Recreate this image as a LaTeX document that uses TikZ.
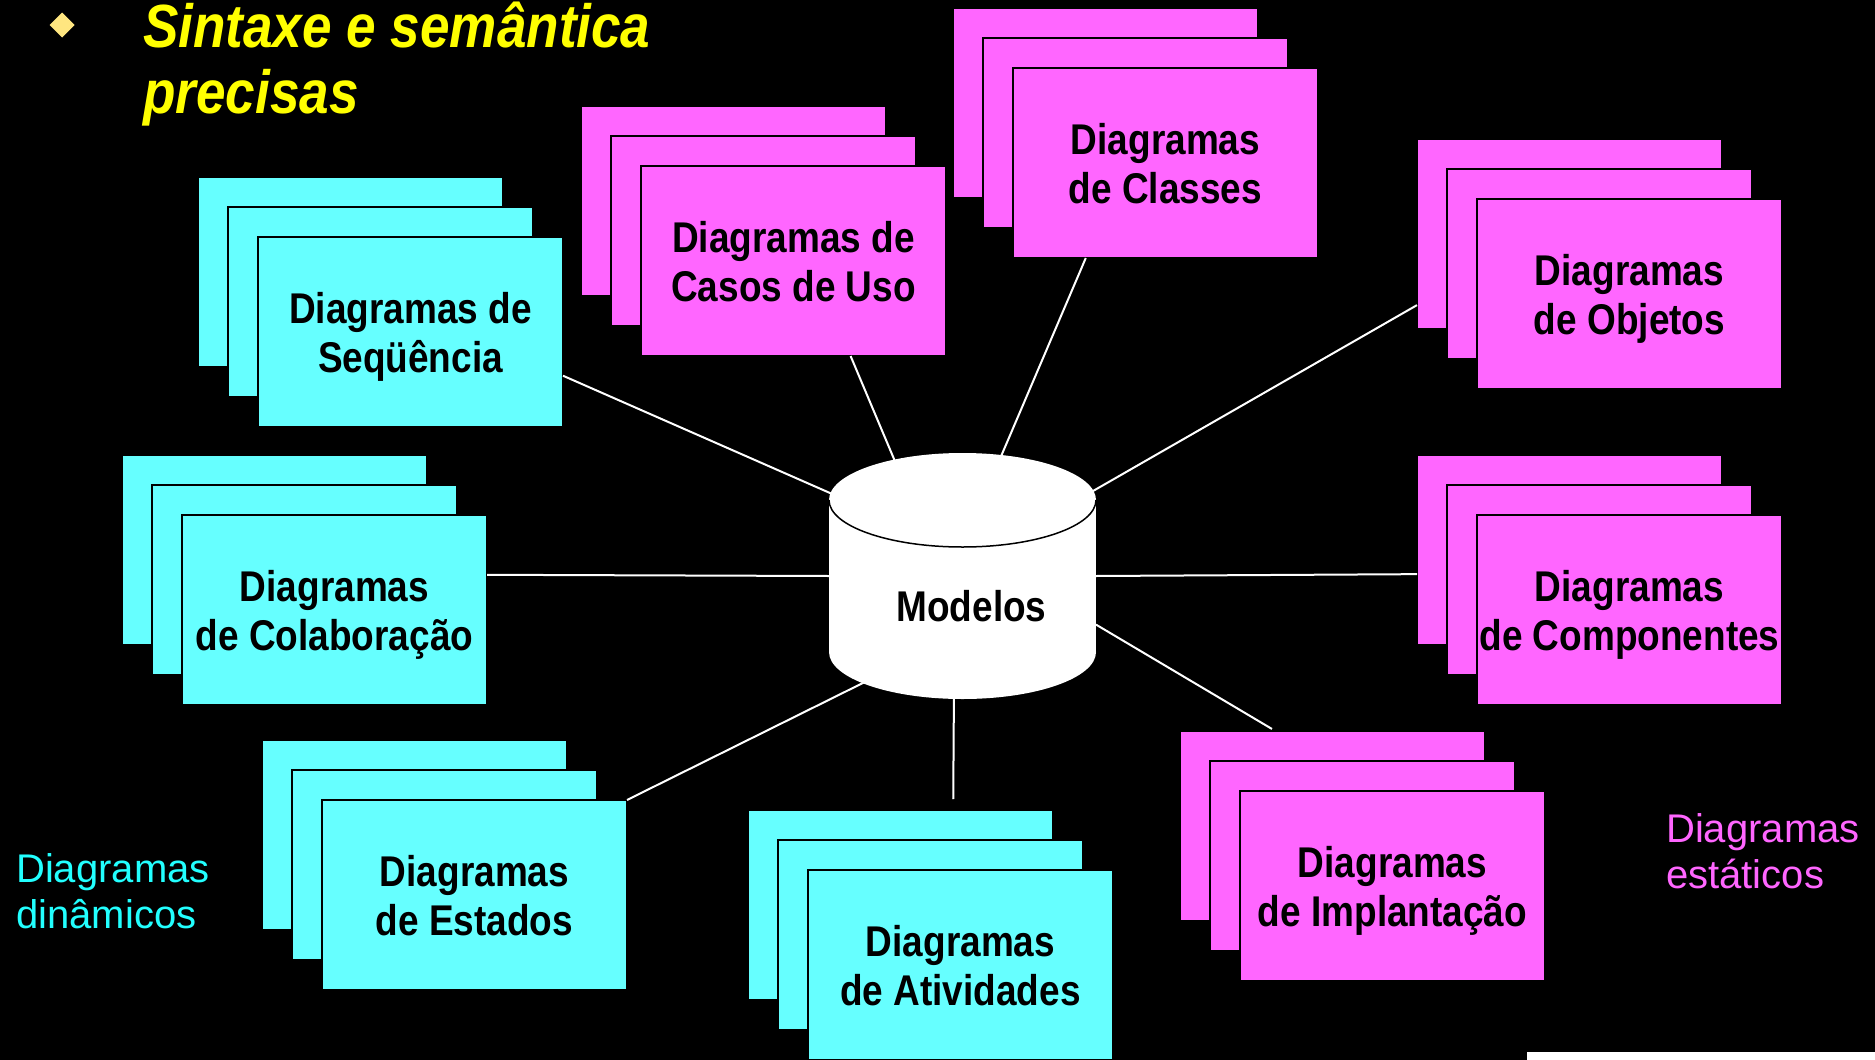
\documentclass[tikz,border=0pt]{standalone}
\usepackage{fontspec}
\setmainfont{Liberation Sans}
\newfontfamily\cardfont[FakeStretch=0.86]{Liberation Sans}
\newfontfamily\titlefont[FakeStretch=0.87]{Liberation Sans}
\newfontfamily\labelfont{Liberation Sans}
\definecolor{cardcyan}{HTML}{66FFFF}
\definecolor{cardmag}{HTML}{FF66FF}
\definecolor{labcyan}{HTML}{22FFFF}
\definecolor{titleyellow}{HTML}{FFFF00}
\definecolor{bulletyellow}{HTML}{FFE680}
\newcommand\twoline[2]{\vbox{\hbox to 0pt{\hss#1\hss}\hbox to 0pt{\hss#2\hss}}}
\newcommand\diagstack[5]{%
  \node[card,fill=#4] (#1b) at ({#2+152.5},{#3+95}) {};
  \node[card,fill=#4] (#1m) at ({#2+182.5},{#3+125}) {};
  \node[card,fill=#4] (#1) at ({#2+212.5},{#3+155}) {#5};}
\begin{document}
\begin{tikzpicture}[x=1pt,y=-1pt,
  card/.style={rectangle,draw=black,line width=2pt,minimum width=305pt,minimum height=190pt,
    inner sep=0pt,outer sep=0pt,text depth=0pt,text=black,
    font=\cardfont\bfseries\fontsize{43}{49}\selectfont},
  link/.style={draw=white,line width=2pt},
  titletext/.style={anchor=base west,inner sep=0pt,text=titleyellow,
    font=\titlefont\bfseries\itshape\fontsize{61}{66}\selectfont},
  legend/.style={anchor=base west,inner sep=0pt,font=\labelfont\fontsize{40}{46}\selectfont}]
\fill[black] (0,0) rectangle (1875,1060);
\useasboundingbox (0,0) rectangle (1875,1060);

% title
\fill[bulletyellow] (49.5,25) -- (62,12.5) -- (74.5,25) -- (62,37.5) -- cycle;
\node[titletext] (title1) at (143,47) {Sintaxe e semântica};
\node[titletext] (title2) at (143,113) {precisas};

% stacks
\diagstack{seq}{198}{177}{cardcyan}{\twoline{Diagramas de}{Seqüência}}
\diagstack{casos}{581}{106}{cardmag}{\twoline{Diagramas de}{Casos de Uso}}
\diagstack{classes}{953}{8}{cardmag}{\twoline{Diagramas}{de Classes}}
\diagstack{objetos}{1417}{139}{cardmag}{\twoline{Diagramas}{de Objetos}}
\diagstack{colab}{122}{455}{cardcyan}{\twoline{Diagramas}{de Colaboração}}
\diagstack{comp}{1417}{455}{cardmag}{\twoline{Diagramas}{de Componentes}}
\diagstack{estados}{262}{740}{cardcyan}{\twoline{Diagramas}{de Estados}}
\diagstack{ativ}{748}{810}{cardcyan}{\twoline{Diagramas}{de Atividades}}
\diagstack{impl}{1180}{731}{cardmag}{\twoline{Diagramas}{de Implantação}}

% central model (anchor frame)
\node[minimum width=267pt,minimum height=246pt,inner sep=0pt,outer sep=0pt] (cyl) at (962.5,576) {};

% connectors
\draw[link,shorten >=-15pt] (seq.-16) -- (cyl.148);
\draw[link,shorten >=-12pt] (casos.-59) -- (cyl.120);
\draw[link,shorten >=-12pt] (classes.-130) -- (cyl.72);
\draw[link,shorten >=-12pt] (objetosb.-155) -- (cyl.33);
\draw[link,shorten >=-10pt] (colab.13) -- (cyl.180);
\draw[link,shorten >=-10pt] (compb.-171) -- (cyl.0);
\draw[link,shorten >=-45pt] (estados.north east) -- (cyl.-137);
\draw[link,shorten <=11pt] (ativb.61) -- (cyl.-94);
\draw[link,shorten <=4pt] (implb.121) -- (cyl.-20);

% cylinder
\fill[white] (829,500) rectangle (1096,652);
\fill[white] (962.5,500) ellipse [x radius=133.5pt, y radius=47pt];
\fill[white] (962.5,652) ellipse [x radius=133.5pt, y radius=47pt];
\draw[black,line width=1.5pt] (829,500) arc[start angle=180,end angle=360,x radius=133.5pt,y radius=47pt];
\node[anchor=base,inner sep=0pt,text=black,font=\cardfont\bfseries\fontsize{43}{49}\selectfont] (modelos) at (971.5,621) {Modelos};

% legends
\node[legend,text=labcyan] (dyn1) at (16,882) {Diagramas};
\node[legend,text=labcyan] (dyn2) at (16,928) {dinâmicos};
\node[legend,text=cardmag] (sta1) at (1666,842) {Diagramas};
\node[legend,text=cardmag] (sta2) at (1666,888) {estáticos};

% corner strip
\fill[white] (1527,1052) rectangle (1875,1060);
\end{tikzpicture}
\end{document}
